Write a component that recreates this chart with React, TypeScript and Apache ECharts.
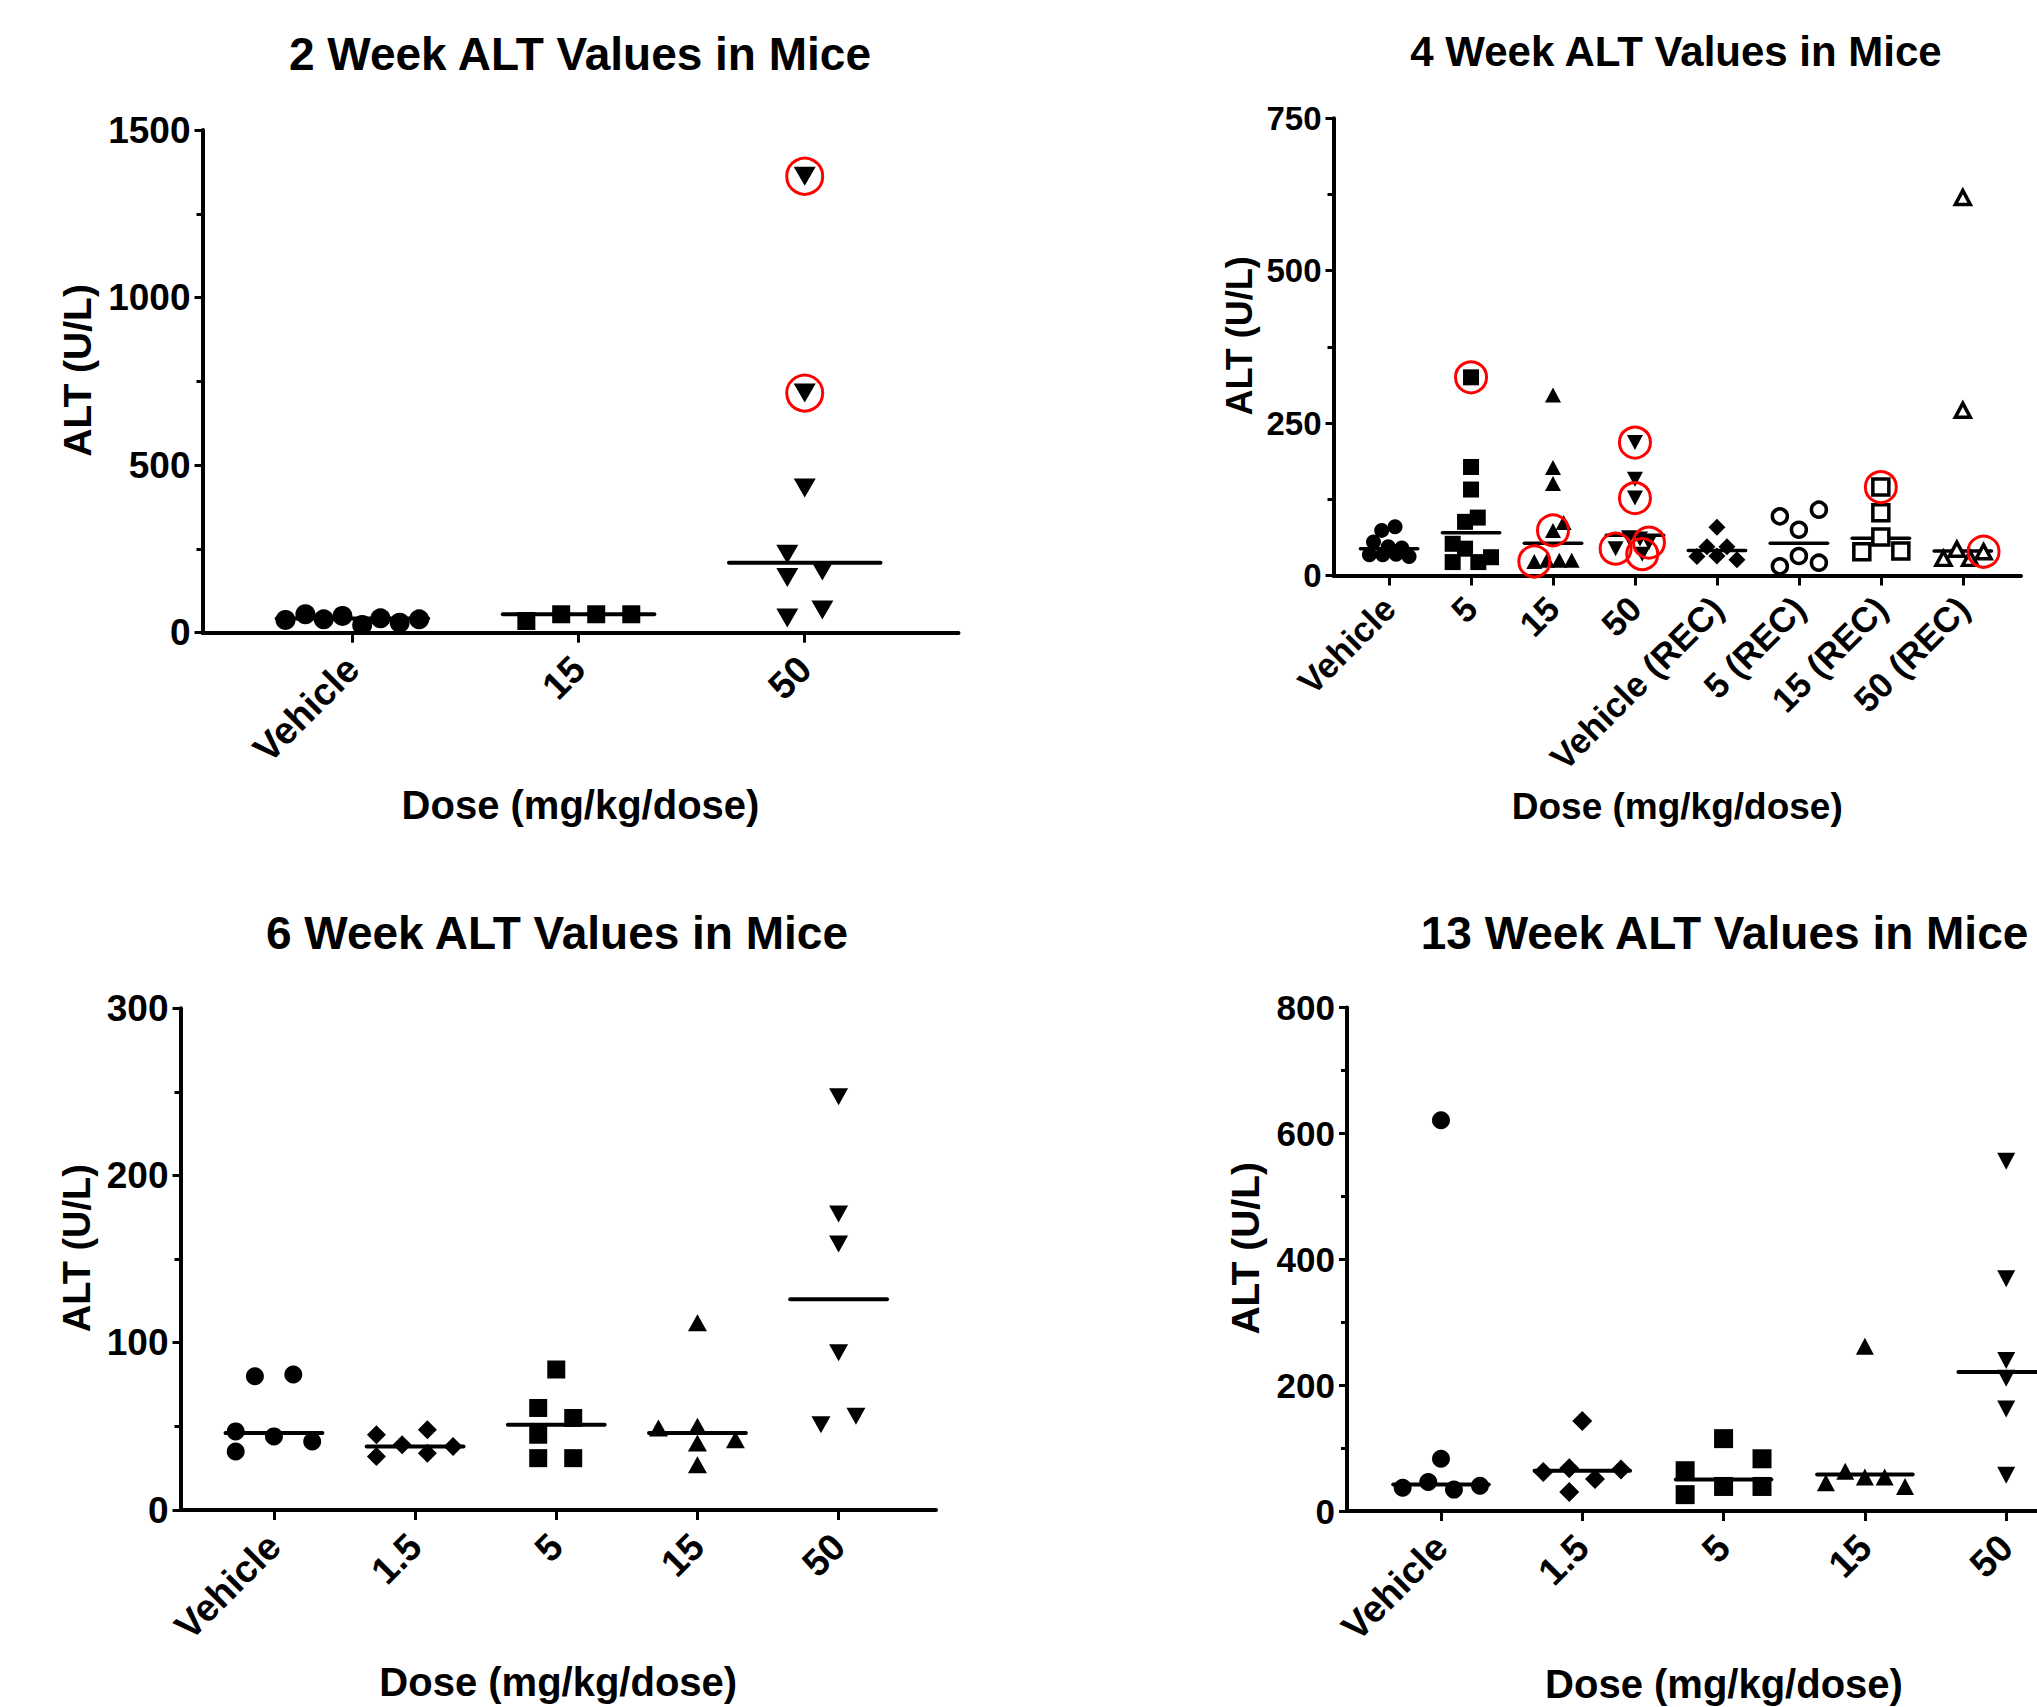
import React, { useEffect, useRef } from "react";
import * as echarts from "echarts";

const FONT = '"Liberation Sans", Arial, Helvetica, sans-serif';
const BLACK = "#000000";
const RED = "#ff0000";

// ---------------- 2 week ----------------
const wk2Title = "2 Week ALT Values in Mice";
const wk2Categories = ["Vehicle", "15", "50"];
const wk2YTicks = [0, 500, 1000, 1500];
const wk2VehicleALT = [38, 55, 40, 50, 23, 43, 30, 40];
const wk2VehicleJitter = [-0.296, -0.208, -0.127, -0.044, 0.043, 0.124, 0.209, 0.295];
const wk2Dose15ALT = [35, 55, 55, 55];
const wk2Dose15Jitter = [-0.231, -0.077, 0.078, 0.233];
const wk2Dose50ALT = [1362, 715, 432, 234, 184, 165, 44, 68];
const wk2Dose50Jitter = [0, 0, 0, -0.077, 0.078, -0.077, -0.077, 0.078];
const wk2Dose50Flagged = [0, 1];
const wk2Medians = [42, 55, 209];

// ---------------- 4 week ----------------
const wk4Title = "4 Week ALT Values in Mice";
const wk4Categories = ["Vehicle", "5", "15", "50", "Vehicle (REC)", "5 (REC)", "15 (REC)", "50 (REC)"];
const wk4YTicks = [0, 250, 500, 750];
const wk4VehicleALT = [34, 34, 35, 31, 55, 47, 45, 74, 80];
const wk4VehicleJitter = [-0.24, -0.077, 0.086, 0.244, -0.19, -0.01, 0.155, -0.09, 0.073];
const wk4Dose5ALT = [325, 178, 141, 95, 88, 52, 44, 30, 22, 22];
const wk4Dose5Jitter = [0, 0, 0, 0.082, -0.073, -0.224, -0.073, 0.244, -0.224, 0.089];
const wk4Dose5Flagged = [0];
const wk4Dose15ALT = [296, 177, 151, 87, 74, 23, 25, 25, 25];
const wk4Dose15Jitter = [0, 0, 0, 0.13, 0, -0.228, -0.073, 0.077, 0.228];
const wk4Dose15Flagged = [4, 5];
const wk4Dose50ALT = [218, 158, 127, 62, 60, 54, 44, 35];
const wk4Dose50Jitter = [0, 0, 0, -0.073, 0.061, 0.171, -0.236, 0.089];
const wk4Dose50Flagged = [0, 2, 5, 6, 7];
const wk4VehicleRecALT = [79, 47, 47, 31, 32, 26];
const wk4VehicleRecJitter = [0, -0.122, 0.122, -0.244, 0, 0.244];
const wk4Dose5RecALT = [97, 108, 75, 32, 15, 21];
const wk4Dose5RecJitter = [-0.232, 0.244, 0, 0, -0.232, 0.244];
const wk4Dose15RecALT = [145, 103, 63, 39, 40];
const wk4Dose15RecJitter = [0, 0, 0, -0.232, 0.244];
const wk4Dose15RecFlagged = [0];
const wk4Dose50RecALT = [620, 271, 28, 43, 28, 39];
const wk4Dose50RecJitter = [0, 0, -0.236, -0.073, 0.089, 0.253];
const wk4Dose50RecFlagged = [5];
const wk4Medians = [44, 70, 53, 66, 41, 53, 61, 40];

// ---------------- 6 week ----------------
const wk6Title = "6 Week ALT Values in Mice";
const wk6Categories = ["Vehicle", "1.5", "5", "15", "50"];
const wk6YTicks = [0, 100, 200, 300];
const wk6VehicleALT = [80, 81, 47, 44, 41, 35];
const wk6VehicleJitter = [-0.135, 0.137, -0.271, 0, 0.271, -0.271];
const wk6Dose1p5ALT = [45, 48, 39, 32, 34, 38];
const wk6Dose1p5Jitter = [-0.274, 0.087, -0.092, -0.274, 0.087, 0.269];
const wk6Dose5ALT = [84, 61, 55, 45, 31, 31];
const wk6Dose5Jitter = [0, -0.128, 0.12, -0.128, -0.128, 0.12];
const wk6Dose15ALT = [112, 49, 50, 40, 42, 27];
const wk6Dose15Jitter = [0, -0.276, 0, 0, 0.269, 0];
const wk6Dose50ALT = [247, 177, 159, 94, 56, 51];
const wk6Dose50Jitter = [0, 0, 0, 0, 0.123, -0.125];
const wk6Medians = [46, 38, 51, 46, 126];

// ---------------- 13 week ----------------
const wk13Title = "13 Week ALT Values in Mice";
const wk13Categories = ["Vehicle", "1.5", "5", "15", "50"];
const wk13YTicks = [0, 200, 400, 600, 800];
const wk13VehicleALT = [621, 83, 37, 46, 34, 40];
const wk13VehicleJitter = [0, 0, -0.271, -0.09, 0.092, 0.276];
const wk13Dose1p5ALT = [143, 62, 68, 51, 66, 30];
const wk13Dose1p5Jitter = [0, -0.276, -0.092, 0.09, 0.274, -0.092];
const wk13Dose5ALT = [115, 64, 83, 26, 39, 39];
const wk13Dose5Jitter = [0, -0.272, 0.272, -0.272, 0, 0.272];
const wk13Dose15ALT = [262, 45, 63, 54, 54, 39];
const wk13Dose15Jitter = [0, -0.276, -0.139, 0, 0.14, 0.284];
const wk13Dose50ALT = [556, 369, 239, 211, 162, 57];
const wk13Dose50Jitter = [0, 0, 0, 0, 0, 0];
const wk13Medians = [42, 64, 50, 58, 221];

const xAxisName = "Dose (mg/kg/dose)";
const yAxisName = "ALT (U/L)";

// ---------------- marker styles ----------------
type Marker = { symbol: string; rotate?: number; open?: boolean };
const M_CIRCLE: Marker = { symbol: "circle" };
const M_SQUARE: Marker = { symbol: "rect" };
const M_TRI_UP: Marker = { symbol: "triangle" };
const M_TRI_DOWN: Marker = { symbol: "triangle", rotate: 180 };
const M_DIAMOND: Marker = { symbol: "diamond" };
const M_OPEN_CIRCLE: Marker = { symbol: "circle", open: true };
const M_OPEN_SQUARE: Marker = { symbol: "rect", open: true };
const M_OPEN_TRI: Marker = { symbol: "triangle", open: true };

type Group = { values: number[]; jitter: number[]; marker: Marker; flagged?: number[] };

// ---------------- panel layout (pixels) ----------------
type Panel = {
  title: string;
  categories: string[];
  yTicks: number[];
  groups: Group[];
  medians: number[];
  grid: { left: number; top: number; width: number; height: number };
  xMin: number;
  xMax: number;
  titleX: number;
  titleY: number;
  titleSize: number;
  tickFont: number;
  catFont: number;
  catMargin: number;
  nameFont: number;
  yNameFont: number;
  xNameGap: number;
  xNameShift: number;
  yNameGap: number;
  sizes: Record<string, number | number[]>;
  border: number;
  ringSize: number;
  medianHalf: number;
  medianWidth: number;
};

const panels: Panel[] = [
  {
    title: wk2Title,
    categories: wk2Categories,
    yTicks: wk2YTicks,
    groups: [
      { values: wk2VehicleALT, jitter: wk2VehicleJitter, marker: M_CIRCLE },
      { values: wk2Dose15ALT, jitter: wk2Dose15Jitter, marker: M_SQUARE },
      { values: wk2Dose50ALT, jitter: wk2Dose50Jitter, marker: M_TRI_DOWN, flagged: wk2Dose50Flagged },
    ],
    medians: wk2Medians,
    grid: { left: 202.5, top: 130, width: 756, height: 502.7 },
    xMin: -0.663,
    xMax: 2.68,
    titleX: 580,
    titleY: 54,
    titleSize: 46,
    tickFont: 37,
    catFont: 38,
    catMargin: 30,
    nameFont: 40,
    yNameFont: 39,
    xNameGap: 152,
    xNameShift: 0,
    yNameGap: 106,
    sizes: { circle: 20, rect: 18, triangle: [22, 19], diamond: [19, 19] },
    border: 3.5,
    ringSize: 36,
    medianHalf: 0.335,
    medianWidth: 4,
  },
  {
    title: wk4Title,
    categories: wk4Categories,
    yTicks: wk4YTicks,
    groups: [
      { values: wk4VehicleALT, jitter: wk4VehicleJitter, marker: M_CIRCLE },
      { values: wk4Dose5ALT, jitter: wk4Dose5Jitter, marker: M_SQUARE, flagged: wk4Dose5Flagged },
      { values: wk4Dose15ALT, jitter: wk4Dose15Jitter, marker: M_TRI_UP, flagged: wk4Dose15Flagged },
      { values: wk4Dose50ALT, jitter: wk4Dose50Jitter, marker: M_TRI_DOWN, flagged: wk4Dose50Flagged },
      { values: wk4VehicleRecALT, jitter: wk4VehicleRecJitter, marker: M_DIAMOND },
      { values: wk4Dose5RecALT, jitter: wk4Dose5RecJitter, marker: M_OPEN_CIRCLE },
      { values: wk4Dose15RecALT, jitter: wk4Dose15RecJitter, marker: M_OPEN_SQUARE, flagged: wk4Dose15RecFlagged },
      { values: wk4Dose50RecALT, jitter: wk4Dose50RecJitter, marker: M_OPEN_TRI, flagged: wk4Dose50RecFlagged },
    ],
    medians: wk4Medians,
    grid: { left: 1333.5, top: 118.2, width: 687.5, height: 457.3 },
    xMin: -0.678,
    xMax: 7.71,
    titleX: 1676,
    titleY: 51.5,
    titleSize: 42,
    tickFont: 33,
    catFont: 35,
    catMargin: 27,
    nameFont: 37,
    yNameFont: 36,
    xNameGap: 212,
    xNameShift: 0,
    yNameGap: 76,
    sizes: { circle: 15, rect: 16, triangle: [16, 15], diamond: [17, 17], openCircle: 15, openRect: 16, openTriangle: [15, 14] },
    border: 3.5,
    ringSize: 31,
    medianHalf: 0.35,
    medianWidth: 3.5,
  },
  {
    title: wk6Title,
    categories: wk6Categories,
    yTicks: wk6YTicks,
    groups: [
      { values: wk6VehicleALT, jitter: wk6VehicleJitter, marker: M_CIRCLE },
      { values: wk6Dose1p5ALT, jitter: wk6Dose1p5Jitter, marker: M_DIAMOND },
      { values: wk6Dose5ALT, jitter: wk6Dose5Jitter, marker: M_SQUARE },
      { values: wk6Dose15ALT, jitter: wk6Dose15Jitter, marker: M_TRI_UP },
      { values: wk6Dose50ALT, jitter: wk6Dose50Jitter, marker: M_TRI_DOWN },
    ],
    medians: wk6Medians,
    grid: { left: 180.5, top: 1008.2, width: 755.5, height: 501.8 },
    xMin: -0.662,
    xMax: 4.69,
    titleX: 557,
    titleY: 932.7,
    titleSize: 46,
    tickFont: 37,
    catFont: 38,
    catMargin: 30,
    nameFont: 40,
    yNameFont: 38,
    xNameGap: 152,
    xNameShift: 0,
    yNameGap: 85,
    sizes: { circle: 18, rect: 18, triangle: [19, 17], diamond: [19, 19] },
    border: 3.5,
    ringSize: 34,
    medianHalf: 0.343,
    medianWidth: 4,
  },
  {
    title: wk13Title,
    categories: wk13Categories,
    yTicks: wk13YTicks,
    groups: [
      { values: wk13VehicleALT, jitter: wk13VehicleJitter, marker: M_CIRCLE },
      { values: wk13Dose1p5ALT, jitter: wk13Dose1p5Jitter, marker: M_DIAMOND },
      { values: wk13Dose5ALT, jitter: wk13Dose5Jitter, marker: M_SQUARE },
      { values: wk13Dose15ALT, jitter: wk13Dose15Jitter, marker: M_TRI_UP },
      { values: wk13Dose50ALT, jitter: wk13Dose50Jitter, marker: M_TRI_DOWN },
    ],
    medians: wk13Medians,
    // the plot runs past the right edge of the picture; the visible part ends at the canvas edge
    grid: { left: 1347, top: 1007.6, width: 690, height: 503.4 },
    xMin: -0.665,
    xMax: 4.218,
    titleX: 1724.5,
    titleY: 932.7,
    titleSize: 46,
    tickFont: 35,
    catFont: 38,
    catMargin: 30,
    nameFont: 40,
    yNameFont: 39,
    xNameGap: 153,
    xNameShift: 32,
    yNameGap: 82,
    sizes: { circle: 18, rect: 19, triangle: [18, 17], diamond: [20, 20] },
    border: 3.5,
    ringSize: 34,
    medianHalf: 0.338,
    medianWidth: 4,
  },
];

function markerSize(p: Panel, m: Marker) {
  if (m.open) {
    const key = m.symbol === "circle" ? "openCircle" : m.symbol === "rect" ? "openRect" : "openTriangle";
    return p.sizes[key] ?? p.sizes[m.symbol];
  }
  return p.sizes[m.symbol];
}

function buildOption() {
  const grid: any[] = [];
  const xAxis: any[] = [];
  const yAxis: any[] = [];
  const title: any[] = [];
  const series: any[] = [];

  panels.forEach((p, pi) => {
    const idx = p.categories.map((_, i) => i);
    grid.push({ ...p.grid, containLabel: false });
    title.push({
      text: p.title,
      left: p.titleX,
      top: p.titleY - p.titleSize / 2,
      textAlign: "center",
      padding: 0,
      textStyle: { fontSize: p.titleSize, fontWeight: "bold", fontFamily: FONT, color: BLACK },
    });
    xAxis.push({
      gridIndex: pi,
      type: "value",
      min: p.xMin,
      max: p.xMax,
      splitLine: { show: false },
      axisLine: { show: true, onZero: false, lineStyle: { color: BLACK, width: 4 } },
      axisTick: { show: true, customValues: idx, length: 10, lineStyle: { color: BLACK, width: 3 } },
      axisLabel: {
        show: true,
        customValues: idx,
        formatter: (v: number) => p.categories[Math.round(v)] ?? "",
        rotate: 45,
        margin: p.catMargin,
        fontSize: p.catFont,
        fontWeight: "bold",
        fontFamily: FONT,
        color: BLACK,
      },
      name: xAxisName,
      nameLocation: "middle",
      nameGap: p.xNameGap,
      nameTextStyle: {
        fontSize: p.nameFont,
        fontWeight: "bold",
        fontFamily: FONT,
        color: BLACK,
        padding: [0, 0, 0, p.xNameShift * 2],
      },
    });
    const yMax = p.yTicks[p.yTicks.length - 1];
    yAxis.push({
      gridIndex: pi,
      type: "value",
      min: p.yTicks[0],
      max: yMax,
      interval: p.yTicks[1] - p.yTicks[0],
      splitLine: { show: false },
      minorSplitLine: { show: false },
      axisLine: { show: true, onZero: false, lineStyle: { color: BLACK, width: 4 } },
      axisTick: { show: true, length: 8, lineStyle: { color: BLACK, width: 3 } },
      minorTick: { show: true, splitNumber: 2, length: 6, lineStyle: { color: BLACK, width: 3 } },
      axisLabel: {
        margin: 12,
        formatter: (v: number) => String(v),
        fontSize: p.tickFont,
        fontWeight: "bold",
        fontFamily: FONT,
        color: BLACK,
      },
      name: yAxisName,
      nameLocation: "middle",
      nameRotate: 90,
      nameGap: p.yNameGap,
      nameTextStyle: {
        fontSize: p.yNameFont,
        fontWeight: "bold",
        fontFamily: FONT,
        color: BLACK,
        padding: [0, 0, 0, 22],
      },
    });

    // median lines
    p.medians.forEach((m, ci) => {
      series.push({
        type: "line",
        xAxisIndex: pi,
        yAxisIndex: pi,
        data: [
          [ci - p.medianHalf, m],
          [ci + p.medianHalf, m],
        ],
        symbol: "none",
        silent: true,
        z: 2,
        lineStyle: { color: BLACK, width: p.medianWidth, cap: "round" },
      });
    });

    // points
    p.groups.forEach((g, ci) => {
      const m = g.marker;
      series.push({
        type: "scatter",
        xAxisIndex: pi,
        yAxisIndex: pi,
        symbol: m.symbol,
        symbolRotate: m.rotate ?? 0,
        symbolSize: markerSize(p, m),
        silent: true,
        z: 3,
        itemStyle: m.open
          ? { color: "#ffffff", borderColor: BLACK, borderWidth: p.border, opacity: 1 }
          : { color: BLACK, opacity: 1 },
        data: g.values.map((v, k) => [ci + g.jitter[k], v]),
      });
      if (g.flagged && g.flagged.length) {
        series.push({
          type: "scatter",
          xAxisIndex: pi,
          yAxisIndex: pi,
          symbol: "circle",
          symbolSize: p.ringSize,
          silent: true,
          z: 4,
          itemStyle: { color: "rgba(0,0,0,0)", borderColor: RED, borderWidth: 3, opacity: 1 },
          data: g.flagged.map((k) => [ci + g.jitter[k], g.values[k]]),
        });
      }
    });
  });

  return {
    animation: false,
    backgroundColor: "#ffffff",
    textStyle: { fontFamily: FONT },
    title,
    grid,
    xAxis,
    yAxis,
    series,
  };
}

export default function App() {
  const ref = useRef<HTMLDivElement>(null);
  useEffect(() => {
    document.body.style.margin = "0";
    if (!ref.current) return;
    const chart = echarts.init(ref.current, undefined, { renderer: "svg" });
    chart.setOption(buildOption() as any);
    return () => chart.dispose();
  }, []);
  return <div ref={ref} style={{ width: 2037, height: 1707, background: "#fff" }} />;
}
